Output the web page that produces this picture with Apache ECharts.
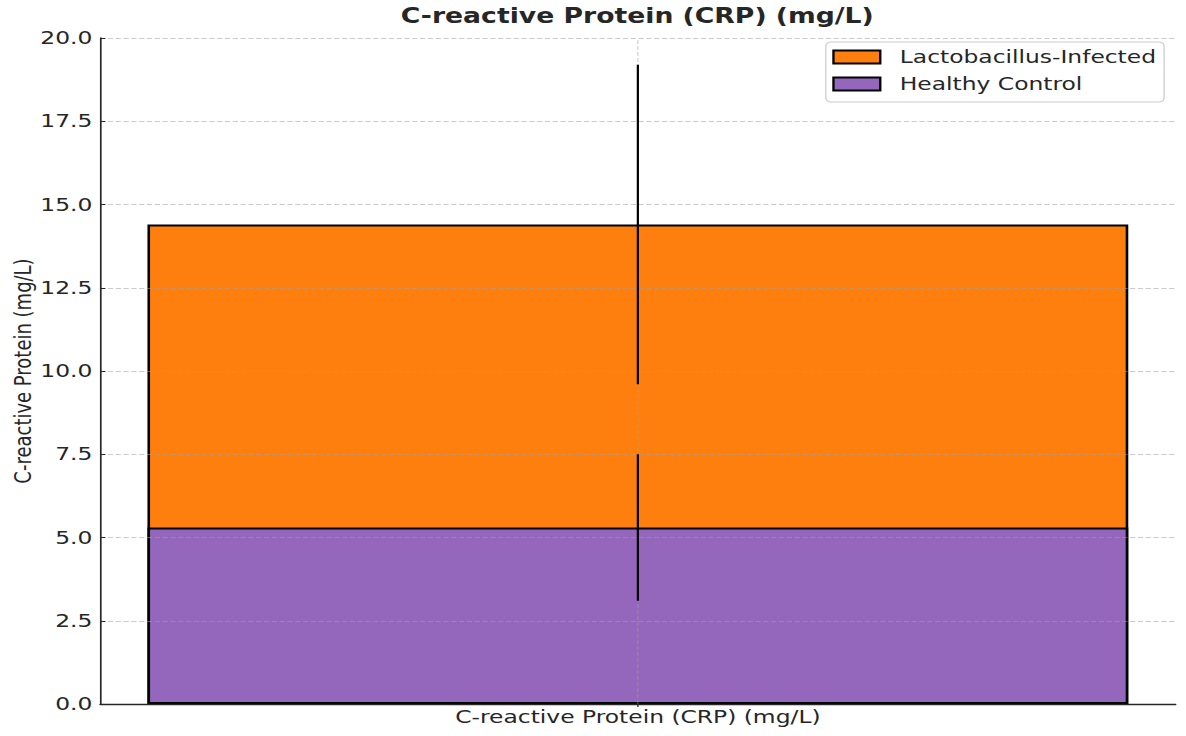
<!DOCTYPE html>
<html>
<head>
<meta charset="utf-8">
<script src="https://cdn.jsdelivr.net/npm/echarts@6/dist/echarts.min.js"></script>
<style>
  html, body { margin: 0; padding: 0; background: #ffffff; overflow: hidden; }
  #chart { width: 912px; height: 736px; transform: scaleX(1.30044); transform-origin: 0 0; }
</style>
</head>
<body>
<div id="chart"></div>
<script>
// ---- data ----
const categories = ['C-reactive Protein (CRP) (mg/L)'];
const seriesNames = ['Lactobacillus-Infected', 'Healthy Control'];
const infectedMean = [14.4];
const infectedSd = [4.8];
const controlMean = [5.3];
const controlSd = [2.2];
const yTicks = { min: 0, max: 20, interval: 2.5 };

const FONT = 'DejaVu Sans';
const TXT = '#262626';

const errData = [];
categories.forEach(function (c, i) {
  errData.push([i, infectedMean[i] - infectedSd[i], infectedMean[i] + infectedSd[i]]);
  errData.push([i, controlMean[i] - controlSd[i], controlMean[i] + controlSd[i]]);
});

const chart = echarts.init(document.getElementById('chart'), null, { renderer: 'svg' });
chart.setOption({
  animation: false,
  backgroundColor: '#ffffff',
  textStyle: { fontFamily: FONT },
  title: {
    text: 'C-reactive Protein (CRP) (mg/L)',
    left: 490,
    textAlign: 'center',
    top: 6,
    padding: 0,
    textStyle: { fontFamily: FONT, fontWeight: 'bold', fontSize: 20.5, color: TXT }
  },
  legend: {
    data: seriesNames,
    orient: 'vertical',
    left: 635,
    top: 42,
    icon: 'rect',
    itemWidth: 36,
    itemHeight: 13,
    itemGap: 7,
    padding: [5, 6, 8, 5],
    borderColor: '#cccccc',
    borderWidth: 1,
    borderRadius: 4,
    backgroundColor: 'rgba(255,255,255,0.8)',
    itemStyle: { borderColor: '#000000', borderWidth: 1.8 },
    textStyle: { fontFamily: FONT, fontSize: 18, color: TXT, lineHeight: 20, padding: [0, 0, 0, 10] }
  },
  grid: { left: 77, right: 8, top: 38, bottom: 32, containLabel: false, outerBoundsMode: 'none' },
  xAxis: {
    type: 'category',
    data: categories,
    z: 3,
    axisLine: { lineStyle: { color: TXT, width: 1.3 } },
    axisTick: { show: true, alignWithLabel: true, length: 3, lineStyle: { color: TXT } },
    axisLabel: { fontFamily: FONT, fontSize: 18, color: TXT, margin: 4 },
    splitLine: { show: false }
  },
  yAxis: {
    type: 'value',
    min: yTicks.min,
    max: yTicks.max,
    interval: yTicks.interval,
    z: 3,
    name: 'C-reactive Protein (mg/L)',
    nameLocation: 'middle',
    nameGap: 50,
    nameMoveOverlap: false,
    nameRotate: 90,
    nameTextStyle: { fontFamily: FONT, fontSize: 18, color: TXT },
    axisLine: { show: true, lineStyle: { color: TXT, width: 1.3 } },
    axisTick: { show: true, inside: true, length: 4, lineStyle: { color: TXT } },
    axisLabel: {
      fontFamily: FONT, fontSize: 18, color: TXT, margin: 6,
      formatter: function (v) { return v.toFixed(1); }
    },
    splitLine: { show: true, lineStyle: { color: 'rgba(160,160,160,0.55)', width: 0.8, type: [4, 2] } }
  },
  series: [
    {
      name: seriesNames[0],
      type: 'bar',
      data: infectedMean,
      barWidth: '91.2%',
      barGap: '-100%',
      z: 1,
      itemStyle: { color: '#ff7f0e', borderColor: '#000000', borderWidth: 2 },
      markLine: {
        silent: true,
        symbol: 'none',
        z: 4,
        label: { show: false },
        lineStyle: { color: 'rgba(160,160,160,0.55)', width: 0.8, type: [4, 2] },
        data: [{ xAxis: 0 }]
      }
    },
    {
      name: seriesNames[1],
      type: 'bar',
      data: controlMean,
      barWidth: '91.2%',
      barGap: '-100%',
      z: 2,
      itemStyle: { color: '#9467bd', borderColor: '#000000', borderWidth: 2 }
    },
    {
      name: 'err',
      type: 'custom',
      z: 10,
      silent: true,
      data: errData,
      renderItem: function (params, api) {
        const x = api.value(0);
        const lo = api.coord([x, api.value(1)]);
        const hi = api.coord([x, api.value(2)]);
        return {
          type: 'line',
          shape: { x1: lo[0], y1: lo[1], x2: hi[0], y2: hi[1] },
          style: { stroke: '#000000', lineWidth: 1.7 }
        };
      }
    }
  ]
});
</script>
</body>
</html>
